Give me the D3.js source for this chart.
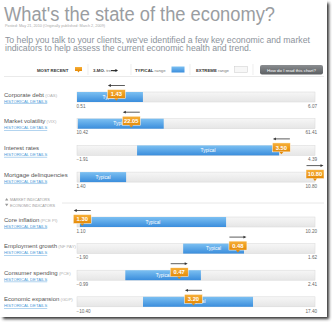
<!DOCTYPE html>
<html>
<head>
<meta charset="utf-8">
<script src="https://cdn.jsdelivr.net/npm/d3@7"></script>
<style>
  body { margin: 0; background: #fff; }
  svg { display: block; font-family: "Liberation Sans", Arial, sans-serif; }
</style>
</head>
<body>
<div id="economy"></div>
<script>
// indicator rows, top group = market, bottom group = economic
const indicators = ["Corporate debt", "Market volatility", "Interest rates", "Mortgage delinquencies",
                    "Core inflation", "Employment growth", "Consumer spending", "Economic expansion"];
const codes = ["(OAS)", "(VIX)", "", "", "(PCE PI)", "(NF PAY)", "(PCE)", "(GDP)"];
const groups = [0, 0, 0, 0, 1, 1, 1, 1];
const rangeMin = [0.51, 10.42, -1.91, 1.40, 1.10, -1.90, -0.99, -10.40];
const rangeMax = [6.07, 61.41, 4.39, 10.80, 10.20, 1.62, 2.41, 17.40];
const typicalLow = [0.51, 10.60, -0.32, 1.52, 1.21, -0.33, -0.30, -2.69];
const typicalHigh = [2.05, 29.00, 3.44, 3.34, 6.80, 0.57, 0.78, 10.16];
const recent = [1.43, 22.05, 3.50, 10.80, 1.30, 0.48, 0.47, 3.20];
const trend = [-1, -1, -1, 1, -1, 1, 1, -1];   // 3-month direction

const W = 334, H = 323;
const barX0 = 77, barX1 = 315, barH = 10;

const svg = d3.select("#economy").append("svg")
    .attr("width", W).attr("height", H);

const defs = svg.append("defs");
const blur = defs.append("filter").attr("id", "shadow")
    .attr("x", "-10%").attr("y", "-10%").attr("width", "130%").attr("height", "130%");
blur.append("feGaussianBlur").attr("stdDeviation", 1.6);

const blueGrad = defs.append("linearGradient").attr("id", "blue").attr("x1", 0).attr("y1", 0).attr("x2", 0).attr("y2", 1);
blueGrad.append("stop").attr("offset", "0%").attr("stop-color", "#7cc0f2");
blueGrad.append("stop").attr("offset", "100%").attr("stop-color", "#3a8ddc");
const greyGrad = defs.append("linearGradient").attr("id", "grey").attr("x1", 0).attr("y1", 0).attr("x2", 0).attr("y2", 1);
greyGrad.append("stop").attr("offset", "0%").attr("stop-color", "#f6f6f6");
greyGrad.append("stop").attr("offset", "100%").attr("stop-color", "#e6e6e6");
const orangeGrad = defs.append("linearGradient").attr("id", "orange").attr("x1", 0).attr("y1", 0).attr("x2", 0).attr("y2", 1);
orangeGrad.append("stop").attr("offset", "0%").attr("stop-color", "#f7b03a");
orangeGrad.append("stop").attr("offset", "100%").attr("stop-color", "#e58a06");
const btnGrad = defs.append("linearGradient").attr("id", "btn").attr("x1", 0).attr("y1", 0).attr("x2", 0).attr("y2", 1);
btnGrad.append("stop").attr("offset", "0%").attr("stop-color", "#8a8d90");
btnGrad.append("stop").attr("offset", "100%").attr("stop-color", "#5b5e61");

// page with drop shadow
svg.append("rect").attr("x", 3).attr("y", 3).attr("width", 326).attr("height", 316)
    .attr("fill", "#333").attr("filter", "url(#shadow)");
svg.append("rect").attr("x", 0).attr("y", 0).attr("width", 327).attr("height", 317).attr("fill", "#fff");

// heading
svg.append("text").attr("x", 4).attr("y", 20.5)
    .attr("font-size", 20).attr("fill", "#9a9da1")
    .attr("textLength", 271).attr("lengthAdjust", "spacingAndGlyphs")
    .text("What's the state of the economy?");
svg.append("text").attr("x", 5).attr("y", 27)
    .attr("font-size", 3.8).attr("fill", "#aaa")
    .text("Posted: May 21, 2010 (Originally published: March 2, 2009)");
const intro = ["To help you talk to your clients, we've identified a few key economic and market",
               "indicators to help assess the current economic health and trend."];
svg.append("g").selectAll("text").data(intro).join("text")
    .attr("x", 5).attr("y", (d, i) => 42.5 + i * 8.5)
    .attr("font-size", 8.7).attr("fill", "#8c939b")
    .text(d => d);

// legend strip
const legend = svg.append("g").attr("font-size", 4.3).attr("fill", "#333");
legend.append("text").attr("x", 37).attr("y", 72).attr("font-weight", "bold").text("MOST RECENT");
legend.append("rect").attr("x", 75).attr("y", 67).attr("width", 7).attr("height", 4).attr("fill", "url(#orange)");
legend.append("path").attr("d", "M77.5,71 L78.5,72.5 L79.5,71 Z").attr("fill", "#e58a06");
legend.append("text").attr("x", 93).attr("y", 72).attr("font-weight", "bold").text("3-MO.")
  .append("tspan").attr("font-weight", "normal").attr("fill", "#777").text(" trend");
legend.append("line").attr("x1", 111).attr("x2", 117).attr("y1", 70.5).attr("y2", 70.5).attr("stroke", "#222").attr("stroke-width", 0.9);
legend.append("path").attr("d", "M118,70.5 L115.5,69 L115.5,72 Z").attr("fill", "#222");
legend.append("text").attr("x", 135).attr("y", 72).attr("font-weight", "bold").text("TYPICAL")
  .append("tspan").attr("font-weight", "normal").attr("fill", "#777").text(" range");
legend.append("rect").attr("x", 171.5).attr("y", 66.5).attr("width", 13).attr("height", 6).attr("fill", "url(#blue)");
legend.append("text").attr("x", 196).attr("y", 72).attr("font-weight", "bold").text("EXTREME")
  .append("tspan").attr("font-weight", "normal").attr("fill", "#777").text(" range");
legend.append("rect").attr("x", 234.5).attr("y", 66.5).attr("width", 13).attr("height", 6)
    .attr("fill", "#f7f7f7").attr("stroke", "#ccc").attr("stroke-width", 0.5);
[88, 131, 190, 253].forEach(x => legend.append("line")
    .attr("x1", x).attr("x2", x).attr("y1", 64).attr("y2", 75).attr("stroke", "#e2e2e2").attr("stroke-width", 0.6));
legend.append("rect").attr("x", 260).attr("y", 65).attr("width", 63).attr("height", 9.5).attr("rx", 2)
    .attr("fill", "url(#btn)");
legend.append("text").attr("x", 291.5).attr("y", 71.5).attr("text-anchor", "middle")
    .attr("font-size", 4.4).attr("fill", "#fff").text("How do I read this chart?");
svg.append("line").attr("x1", 4).attr("x2", 324).attr("y1", 76.5).attr("y2", 76.5)
    .attr("stroke", "#e4e4e4").attr("stroke-width", 0.8);

// group toggles
const toggle = svg.append("g").attr("font-size", 3.8).attr("fill", "#9a9a9a");
toggle.append("text").attr("x", 10).attr("y", 200.5).text("MARKET INDICATORS");
toggle.append("text").attr("x", 10).attr("y", 206.5).text("ECONOMIC INDICATORS");
toggle.append("path").attr("d", "M5,200.5 L6.7,198 L8.4,200.5 Z").attr("fill", "#999");
toggle.append("path").attr("d", "M5,203.8 L6.7,206.3 L8.4,203.8 Z").attr("fill", "#999");
svg.append("line").attr("x1", 62).attr("x2", 324).attr("y1", 203).attr("y2", 203)
    .attr("stroke", "#e2e2e2").attr("stroke-width", 0.8);

// row placement
const groupTop = [92, 217], rowStep = [26.7, 26.6];
const rowIndex = groups.map((g, i) => groups.slice(0, i).filter(v => v === g).length);
const rowY = i => groupTop[groups[i]] + rowIndex[i] * rowStep[groups[i]];

const rows = svg.append("g").selectAll("g").data(indicators).join("g")
    .attr("transform", (d, i) => `translate(0,${rowY(i)})`);

rows.each(function(name, i) {
  const g = d3.select(this);
  const x = d3.scaleLinear().domain([rangeMin[i], rangeMax[i]]).range([barX0, barX1]);

  // left labels
  const lab = g.append("text").attr("x", 4).attr("y", 4.5).attr("font-size", 6).attr("fill", "#555").text(name);
  lab.append("tspan").attr("font-size", 4.3).attr("fill", "#b0b0b0").text(codes[i] ? "  " + codes[i] : "");
  g.append("text").attr("x", 4).attr("y", 10.5).attr("font-size", 4.2).attr("fill", "#4a9ad8")
      .attr("text-decoration", "underline").text("HISTORICAL DETAILS");

  // extreme range track
  g.append("rect").attr("x", barX0).attr("y", 0).attr("width", barX1 - barX0).attr("height", barH)
      .attr("fill", "url(#grey)").attr("stroke", "#d8d8d8").attr("stroke-width", 0.5);

  // typical band
  const tx0 = x(typicalLow[i]), tx1 = x(typicalHigh[i]);
  g.append("rect").attr("x", tx0).attr("y", 0).attr("width", tx1 - tx0).attr("height", barH)
      .attr("fill", "url(#blue)");
  g.append("text").attr("x", (tx0 + tx1) / 2).attr("y", 6.6).attr("text-anchor", "middle")
      .attr("font-size", 4.8).attr("fill", "#fff").text("Typical");

  // axis end labels
  const ax = d3.axisBottom(x).tickValues([rangeMin[i], rangeMax[i]]).tickSize(0).tickPadding(2)
      .tickFormat(d3.format(".2f"));
  const axg = g.append("g").attr("transform", `translate(0,${barH + 0.5})`).call(ax);
  axg.select(".domain").remove();
  axg.selectAll("text").attr("font-size", 4.6).attr("fill", "#666").attr("font-family", null)
      .attr("text-anchor", (d, k) => k === 0 ? "start" : "end")
      .attr("dx", (d, k) => k === 0 ? -1 : 1.5);

  // most recent marker
  const mx = x(recent[i]);
  const m = g.append("g").attr("transform", `translate(${mx},0)`);
  m.append("rect").attr("x", -9).attr("y", -2.5).attr("width", 18).attr("height", 9)
      .attr("fill", "url(#orange)").attr("stroke", "#fff").attr("stroke-width", 0.5);
  m.append("path").attr("d", "M-2,6.5 L0,8.8 L2,6.5 Z").attr("fill", "#e58a06");
  m.append("text").attr("x", 0).attr("y", 4.1).attr("text-anchor", "middle")
      .attr("font-size", 5.8).attr("font-weight", "bold").attr("fill", "#fff")
      .text(d3.format(".2f")(recent[i]));

  // 3-month trend arrow
  const ay = -6.5, half = 8.5;
  const tip = mx + trend[i] * half, tail = mx - trend[i] * half;
  g.append("line").attr("x1", tail).attr("x2", tip - trend[i] * 2).attr("y1", ay).attr("y2", ay)
      .attr("stroke", "#333").attr("stroke-width", 0.8);
  g.append("path").attr("d", `M${tip},${ay} L${tip - trend[i] * 3},${ay - 1.4} L${tip - trend[i] * 3},${ay + 1.4} Z`)
      .attr("fill", "#333");
});
</script>
</body>
</html>
